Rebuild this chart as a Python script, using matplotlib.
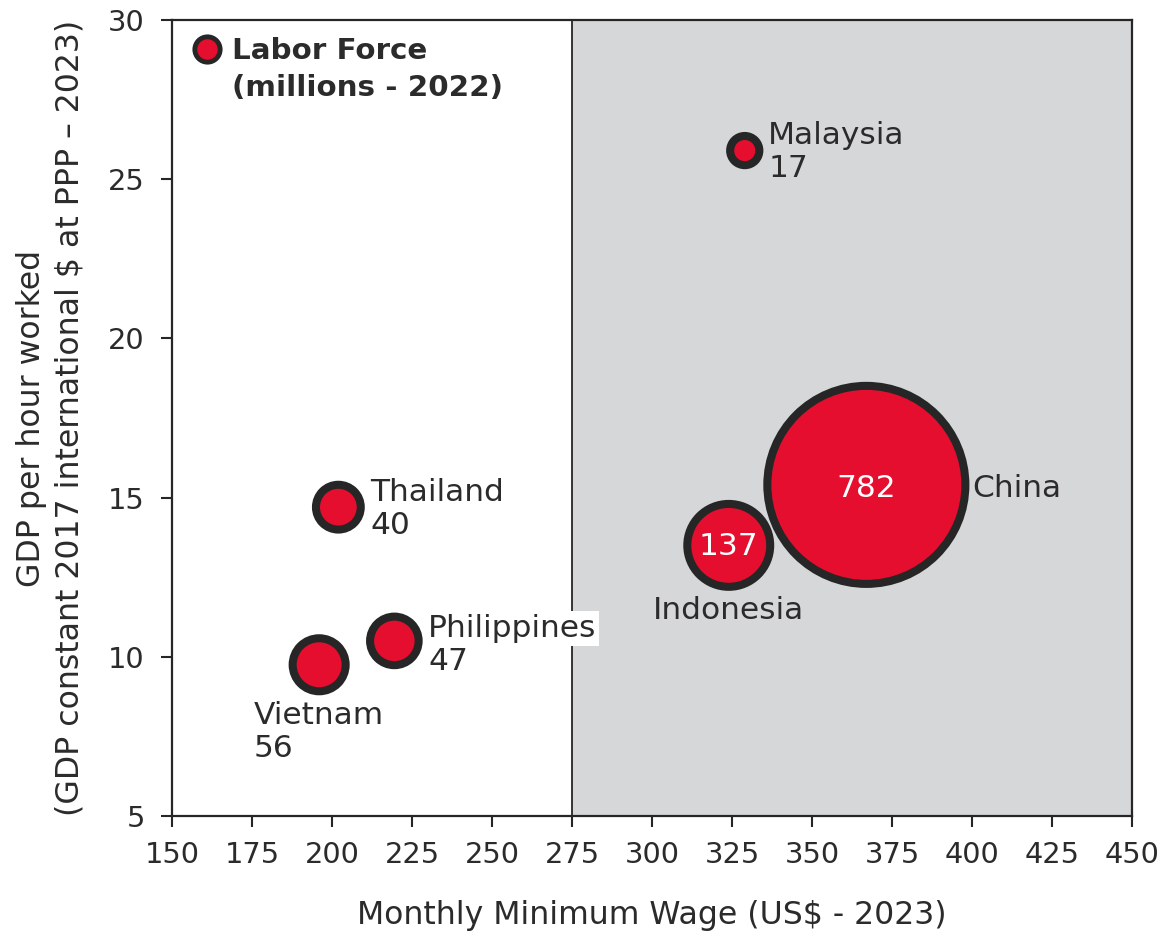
import matplotlib
matplotlib.use("Agg")
import matplotlib.pyplot as plt

countries = ["Malaysia", "Thailand", "Philippines", "Vietnam", "Indonesia", "China"]
min_wage = [329, 202, 219.5, 196, 324, 367]
gdp_per_hour = [25.9, 14.7, 10.5, 9.75, 13.5, 15.4]
labor_force = [17, 40, 47, 56, 137, 782]

xticks = list(range(150, 451, 25))
yticks = [5, 10, 15, 20, 25, 30]

RED = "#E60E2F"
EDGE = "#262626"
GRAY = "#D6D7D9"
TXT = "#2b2b2b"

plt.rcParams['font.family'] = ['DejaVu Sans']

fig = plt.figure(figsize=(11.69, 9.36), dpi=100)
ax = fig.add_axes([0.1471, 0.1282, 0.9683 - 0.1471, 0.9786 - 0.1282])
ax.set_xlim(150, 450)
ax.set_ylim(5, 30)
ax.axvspan(275, 450, color=GRAY, zorder=0, lw=0)
ax.axvline(275, color=EDGE, lw=1.3, zorder=1)

SCALE = 26
sizes = [v * SCALE for v in labor_force]
ax.scatter(min_wage, gdp_per_hour, s=sizes, c=RED, edgecolors=EDGE,
           linewidths=5.8, zorder=3)

fs_lab = 22.5
fs_tick = 20.8
fs_axis = 22.7
# (dx, dy of first line, dy of second line)
side_labels = {
    "Malaysia": (7.3, 0.46, -0.55),
    "Thailand": (9.9, 0.47, -0.58),
    "Philippines": (10.5, 0.38, -0.65),
    "Vietnam": (-20.5, -1.6, -2.62),
}
for name, x, y, v in zip(countries, min_wage, gdp_per_hour, labor_force):
    if name in side_labels:
        dx, d1, d2 = side_labels[name]
        bb = dict(facecolor="white", edgecolor="none", pad=2.0) if name == "Philippines" else None
        ax.text(x + dx, y + d1, name, fontsize=fs_lab, color=TXT, ha="left", va="center",
                zorder=5, bbox=bb)
        ax.text(x + dx, y + d2, str(v), fontsize=fs_lab, color=TXT, ha="left", va="center",
                zorder=5)
    elif name == "Indonesia":
        ax.text(x, y - 0.05, str(v), fontsize=fs_lab, color="white", ha="center", va="center", zorder=5)
        ax.text(x, y - 2.03, name, fontsize=fs_lab, color=TXT, ha="center", va="center", zorder=5)
    elif name == "China":
        ax.text(x, y - 0.1, str(v), fontsize=fs_lab, color="white", ha="center", va="center", zorder=5)
        ax.text(x + 33, y - 0.1, name, fontsize=fs_lab, color=TXT, ha="left", va="center", zorder=5)

# legend
ax.scatter([161], [29.1], s=17 * SCALE * 0.75, c=RED, edgecolors=EDGE, linewidths=3.5, zorder=4)
ax.text(168.8, 29.02, "Labor Force", fontsize=21.2, fontweight="bold", color=TXT,
        ha="left", va="center", zorder=5)
ax.text(168.8, 27.88, "(millions - 2022)", fontsize=21.2, fontweight="bold", color=TXT,
        ha="left", va="center", zorder=5)

ax.set_xticks(xticks)
ax.set_yticks(yticks)
ax.tick_params(axis="x", direction="out", length=8, width=1.5, color=EDGE,
               labelsize=fs_tick, labelcolor=TXT, pad=10)
ax.tick_params(axis="y", direction="out", length=8, width=1.5, color=EDGE,
               labelsize=fs_tick, labelcolor=TXT, pad=11.5)
for sp in ax.spines.values():
    sp.set_color(EDGE)
    sp.set_linewidth(1.6)

ax.set_xlabel("Monthly Minimum Wage (US$ - 2023)", fontsize=fs_axis, color=TXT, labelpad=22)
ax.set_ylabel("GDP per hour worked\n(GDP constant 2017 international $ at PPP \u2013 2023)",
              fontsize=fs_axis, color=TXT, labelpad=16, linespacing=1.35)

fig.savefig("out.png", dpi=100)
